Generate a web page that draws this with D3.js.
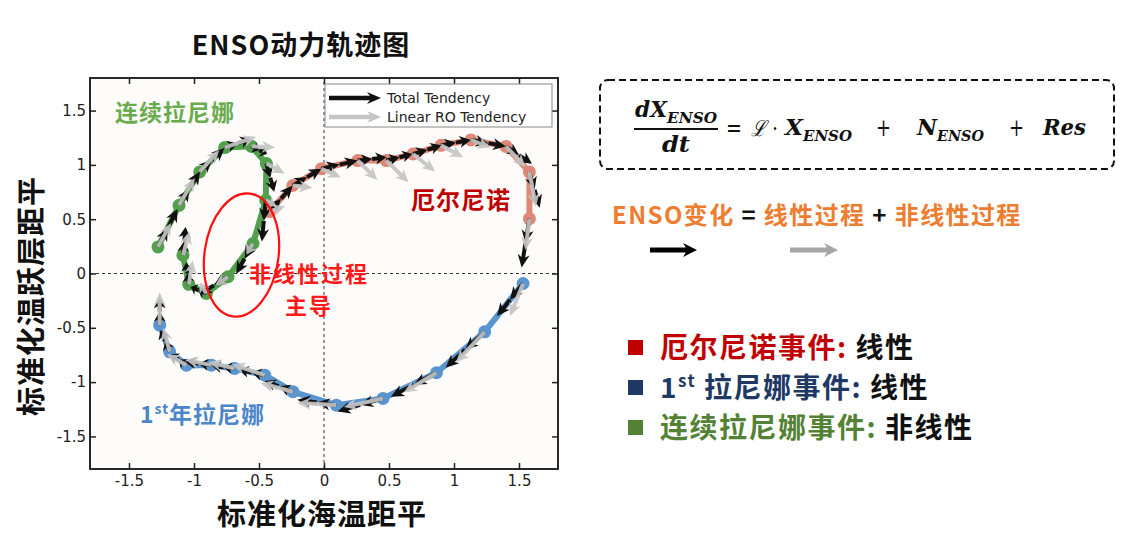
<!DOCTYPE html>
<html>
<head>
<meta charset="utf-8">
<script src="https://cdn.jsdelivr.net/npm/d3@7"></script>
<style>
body { margin: 0; background: #fff; }
svg { display: block; }
</style>
</head>
<body>
<script>
// ---- data ----
var ticks = [-1.5, -1, -0.5, 0, 0.5, 1, 1.5];
var tickLabels = ["-1.5", "-1", "-0.5", "0", "0.5", "1", "1.5"];

// El Nino (red)
var ninoX  = [-0.42, -0.24, -0.02, 0.26, 0.48, 0.685, 0.90, 1.13, 1.40, 1.58, 1.58];
var ninoY  = [0.57, 0.81, 0.965, 1.04, 1.04, 1.10, 1.18, 1.23, 1.17, 0.935, 0.505];
var ninoU  = [0.18, 0.22, 0.28, 0.22, 0.20, 0.22, 0.23, 0.27, 0.20, 0.08, -0.06];
var ninoV  = [0.24, 0.155, 0.075, 0.03, 0.06, 0.08, 0.05, -0.06, -0.16, -0.33, -0.45];
var ninoLU = [0.12, 0.15, 0.15, 0.15, 0.17, 0.17, 0.17, 0.15, 0.15, 0.05, -0.03];
var ninoLV = [0.05, -0.02, -0.08, -0.18, -0.20, -0.16, -0.11, -0.07, -0.19, -0.32, -0.29];

// 1st-year La Nina (blue)
var nina1X  = [1.531, 1.236, 0.865, 0.454, 0.095, -0.238, -0.456, -0.687, -0.866, -1.058, -1.187, -1.264];
var nina1Y  = [-0.092, -0.537, -0.914, -1.150, -1.212, -1.089, -0.936, -0.874, -0.844, -0.844, -0.721, -0.476];
var nina1U  = [-0.20, -0.30, -0.35, -0.35, -0.30, -0.22, -0.20, -0.17, -0.20, -0.12, -0.07, 0.00];
var nina1V  = [-0.30, -0.33, -0.22, -0.12, 0.05, 0.10, 0.05, 0.02, 0.03, 0.10, 0.20, 0.25];
var nina1LU = [-0.10, -0.22, -0.25, -0.30, -0.30, -0.25, -0.25, -0.20, -0.20, -0.15, -0.05, 0.00];
var nina1LV = [-0.30, -0.28, -0.18, -0.08, 0.02, 0.08, 0.10, 0.06, 0.05, 0.10, 0.22, 0.30];

// multi-year La Nina (green)
var ninaMX  = [-1.277, -1.115, -0.956, -0.764, -0.558, -0.443, -0.448, -0.546, -0.738, -0.905, -1.04, -1.085];
var ninaMY  = [0.245, 0.628, 0.935, 1.159, 1.171, 1.012, 0.674, 0.276, -0.03, -0.184, -0.10, 0.168];
var ninaMU  = [0.15, 0.16, 0.19, 0.20, 0.12, 0.06, -0.03, -0.13, -0.22, -0.12, -0.02, 0.02];
var ninaMV  = [0.35, 0.31, 0.22, 0.08, -0.07, -0.26, -0.38, -0.28, -0.16, 0.06, 0.20, 0.26];
var ninaMLU = [0.10, 0.12, 0.15, 0.24, 0.18, 0.14, 0.08, -0.05, -0.10, -0.05, 0.03, 0.05];
var ninaMLV = [0.22, 0.25, 0.20, 0.10, -0.01, -0.09, -0.05, -0.10, -0.08, 0.10, 0.22, 0.22];

var width = 1146, height = 549;
var cjk = "'Noto Sans CJK SC', 'Noto Sans', sans-serif";

var svg = d3.select("body").append("svg").attr("width", width).attr("height", height);

var x = d3.scaleLinear().domain([-1.8, 1.8]).range([90, 558]);
var y = d3.scaleLinear().domain([-1.8, 1.8]).range([469, 78]);

// plot background
svg.append("rect").attr("x", 90).attr("y", 78).attr("width", 468).attr("height", 391).attr("fill", "#fdfcfa");

// zero lines
svg.append("line").attr("x1", x(-1.8)).attr("x2", x(1.8)).attr("y1", y(0)).attr("y2", y(0))
  .attr("stroke", "#333").attr("stroke-width", 1).attr("stroke-dasharray", "3,3");
svg.append("line").attr("x1", x(0)).attr("x2", x(0)).attr("y1", y(-1.8)).attr("y2", y(1.8))
  .attr("stroke", "#333").attr("stroke-width", 1).attr("stroke-dasharray", "3,3");

// axes, ticks inward on all four sides
var fmt = function(d) { return tickLabels[ticks.indexOf(d)]; };
var axes = [
  {ax: d3.axisBottom(x).tickFormat(fmt).tickPadding(6), t: "translate(0," + y(-1.8) + ")"},
  {ax: d3.axisTop(x).tickFormat(""), t: "translate(0," + y(1.8) + ")"},
  {ax: d3.axisLeft(y).tickFormat(fmt).tickPadding(4), t: "translate(" + x(-1.8) + ",0)"},
  {ax: d3.axisRight(y).tickFormat(""), t: "translate(" + x(1.8) + ",0)"}
];
axes.forEach(function(a) {
  var g = svg.append("g").attr("transform", a.t)
    .call(a.ax.tickValues(ticks).tickSizeInner(-6).tickSizeOuter(0));
  g.select(".domain").remove();
  g.selectAll("line").attr("stroke", "#222").attr("stroke-width", 1.5);
  g.selectAll("text").attr("fill", "#222").style("font-family", "'DejaVu Sans', sans-serif").style("font-size", "15px");
});

// frame
svg.append("rect").attr("x", x(-1.8)).attr("y", y(1.8)).attr("width", x(1.8) - x(-1.8)).attr("height", y(-1.8) - y(1.8))
  .attr("fill", "none").attr("stroke", "#111").attr("stroke-width", 1.8);

// ---- trajectories ----
var series = [
  {x: ninoX, y: ninoY, u: ninoU, v: ninoV, lu: ninoLU, lv: ninoLV, color: "#df8878"},
  {x: nina1X, y: nina1Y, u: nina1U, v: nina1V, lu: nina1LU, lv: nina1LV, color: "#5b95cf"},
  {x: ninaMX, y: ninaMY, u: ninaMU, v: ninaMV, lu: ninaMLU, lv: ninaMLV, color: "#52a04c"}
];

var trail = svg.append("g");
series.forEach(function(s) {
  var pts = s.x.map(function(v, i) { return [x(v), y(s.y[i])]; });
  trail.append("path").attr("d", d3.line()(pts)).attr("fill", "none")
    .attr("stroke", s.color).attr("stroke-width", 6).attr("stroke-linejoin", "round").attr("stroke-linecap", "round");
  trail.selectAll(null).data(pts).enter().append("circle")
    .attr("cx", function(p) { return p[0]; }).attr("cy", function(p) { return p[1]; })
    .attr("r", 6.5).attr("fill", s.color);
});

// quiver-like arrow polygon
function arrowPath(x0, y0, x1, y1, w, hw, hl) {
  var dx = x1 - x0, dy = y1 - y0, L = Math.hypot(dx, dy);
  if (L < 0.5) return "";
  var ux = dx / L, uy = dy / L, nx = -uy, ny = ux;
  var h = Math.min(hl, L * 0.75);
  var bx = x1 - ux * h, by = y1 - uy * h;
  var sx = x1 - ux * h * 0.8, sy = y1 - uy * h * 0.8;
  var p = [
    [x0 + nx * w / 2, y0 + ny * w / 2],
    [sx + nx * w / 2, sy + ny * w / 2],
    [bx + nx * hw / 2, by + ny * hw / 2],
    [x1, y1],
    [bx - nx * hw / 2, by - ny * hw / 2],
    [sx - nx * w / 2, sy - ny * w / 2],
    [x0 - nx * w / 2, y0 - ny * w / 2]
  ];
  return "M" + p.map(function(q) { return q[0].toFixed(1) + "," + q[1].toFixed(1); }).join("L") + "Z";
}

var quiv = svg.append("g");
// total tendency: black, drawn as two chained half arrows
series.forEach(function(s) {
  s.x.forEach(function(xv, i) {
    var yv = s.y[i], hu = s.u[i] / 2, hv = s.v[i] / 2;
    [0, 1].forEach(function(k) {
      quiv.append("path")
        .attr("d", arrowPath(x(xv + hu * k), y(yv + hv * k), x(xv + hu * (k + 1)), y(yv + hv * (k + 1)), 4, 12, 13))
        .attr("fill", "#111");
    });
  });
});
// linear RO tendency: gray
series.forEach(function(s) {
  s.x.forEach(function(xv, i) {
    var yv = s.y[i];
    quiv.append("path")
      .attr("d", arrowPath(x(xv), y(yv), x(xv + s.lu[i]), y(yv + s.lv[i]), 4, 12, 13))
      .attr("fill", "#c4c4c4").attr("fill-opacity", 0.92);
  });
});

// nonlinear highlight ellipse
svg.append("ellipse").attr("cx", 241.5).attr("cy", 255).attr("rx", 37).attr("ry", 62)
  .attr("transform", "rotate(8,241.5,255)")
  .attr("fill", "none").attr("stroke", "#ff1010").attr("stroke-width", 2.2);

// in-plot labels
function label(txt, px, py, size, color, anchor) {
  return svg.append("text").attr("x", px).attr("y", py).attr("text-anchor", anchor || "start")
    .style("font-family", cjk).style("font-weight", 700).style("font-size", size + "px")
    .style("letter-spacing", "1px").attr("fill", color).text(txt);
}
label("连续拉尼娜", 115, 121, 23, "#6aab4e");
label("厄尔尼诺", 411, 209, 24, "#c00000");
label("非线性过程", 309, 282, 22, "#ff1a1a", "middle").style("letter-spacing", "2px");
label("主导", 309, 314, 22, "#ff1a1a", "middle").style("letter-spacing", "2px");
var l1 = label("", 140, 423, 23, "#4a86c8");
l1.append("tspan").text("1");
l1.append("tspan").attr("dy", -9).style("font-size", "14px").text("st");
l1.append("tspan").attr("dy", 9).text("年拉尼娜");

// legend
var leg = svg.append("g");
leg.append("rect").attr("x", 325).attr("y", 84).attr("width", 227).attr("height", 43)
  .attr("fill", "#fff").attr("stroke", "#888").attr("stroke-width", 1);
var legItems = [
  {name: "Total Tendency", color: "#111", cy: 98},
  {name: "Linear RO Tendency", color: "#c4c4c4", cy: 117}
];
legItems.forEach(function(d) {
  leg.append("path").attr("d", arrowPath(329, d.cy, 381, d.cy, 4.5, 12, 14)).attr("fill", d.color);
  leg.append("text").attr("x", 387).attr("y", d.cy + 5).attr("fill", "#222")
    .style("font-family", "'DejaVu Sans', sans-serif").style("font-size", "14px").text(d.name);
});

// titles
svg.append("text").attr("x", 301).attr("y", 55).attr("text-anchor", "middle")
  .style("font-family", cjk).style("font-weight", 700).style("font-size", "27px").style("letter-spacing", "1px")
  .attr("fill", "#111").text("ENSO动力轨迹图");
svg.append("text").attr("x", 322).attr("y", 525).attr("text-anchor", "middle")
  .style("font-family", cjk).style("font-weight", 700).style("font-size", "29px").style("letter-spacing", "1px")
  .attr("fill", "#111").text("标准化海温距平");
svg.append("text").attr("transform", "translate(42,296) rotate(-90)").attr("text-anchor", "middle")
  .style("font-family", cjk).style("font-weight", 700).style("font-size", "29px").style("letter-spacing", "1px")
  .attr("fill", "#111").text("标准化温跃层距平");

// ---- right panel ----
svg.append("rect").attr("x", 600).attr("y", 80).attr("width", 514).attr("height", 89).attr("rx", 8)
  .attr("fill", "none").attr("stroke", "#111").attr("stroke-width", 2).attr("stroke-dasharray", "7,4");

var serif = "'DejaVu Serif', 'Liberation Serif', serif";
function mathText(txt, px, py, size, len, bold, italic) {
  var t = svg.append("text").attr("x", px).attr("y", py).attr("fill", "#111")
    .style("font-family", serif).style("font-size", size + "px")
    .style("font-weight", bold ? 700 : 400).style("font-style", italic ? "italic" : "normal").text(txt);
  if (len) t.attr("textLength", len).attr("lengthAdjust", "spacingAndGlyphs");
  return t;
}
mathText("dX", 635, 117, 22, 32, true, true);
mathText("ENSO", 667, 123, 15, 50, true, true);
svg.append("line").attr("x1", 634).attr("x2", 718).attr("y1", 129).attr("y2", 129).attr("stroke", "#111").attr("stroke-width", 1.8);
mathText("dt", 662, 152, 22, 28, true, true);
mathText("=", 726, 136, 24, 16, false, false);
mathText("ℒ", 751, 136, 22, 15, false, true);
mathText("·", 772, 136, 22, 6, false, false);
mathText("X", 785, 135, 22, 18, true, true);
mathText("ENSO", 803, 141, 15, 49, true, true);
mathText("+", 876, 136, 24, 15, false, false);
mathText("N", 917, 135, 22, 20, true, true);
mathText("ENSO", 937, 141, 15, 47, true, true);
mathText("+", 1009, 136, 24, 15, false, false);
mathText("Res", 1043, 135, 22, 43, true, true);

var eq = svg.append("text").attr("x", 612).attr("y", 224)
  .style("font-family", cjk).style("font-weight", 700).style("font-size", "24px").style("letter-spacing", "1.4px");
[["ENSO变化", "#ed7d31"], [" = ", "#111"], ["线性过程", "#ed7d31"], [" + ", "#111"], ["非线性过程", "#ed7d31"]]
  .forEach(function(p) { eq.append("tspan").attr("fill", p[1]).text(p[0]); });

svg.append("path").attr("d", arrowPath(650, 250, 697, 250, 5, 14, 14)).attr("fill", "#000");
svg.append("path").attr("d", arrowPath(790, 250, 838, 250, 5, 14, 14)).attr("fill", "#a6a6a6");

// event bullets
var bullets = [
  {sq: "#c00000", parts: [["厄尔尼诺事件: ", "#c00000"], ["线性", "#111"]], cy: 347},
  {sq: "#203864", parts: [["1", "#203864"], ["st", "#203864", true], [" 拉尼娜事件: ", "#203864"], ["线性", "#111"]], cy: 387},
  {sq: "#548235", parts: [["连续拉尼娜事件: ", "#548235"], ["非线性", "#111"]], cy: 427}
];
bullets.forEach(function(b) {
  svg.append("rect").attr("x", 628).attr("y", b.cy - 7).attr("width", 15).attr("height", 15).attr("fill", b.sq);
  var t = svg.append("text").attr("x", 660).attr("y", b.cy + 11)
    .style("font-family", cjk).style("font-weight", 700).style("font-size", "28px").style("letter-spacing", "1.5px");
  b.parts.forEach(function(p, i) {
    var ts = t.append("tspan").attr("fill", p[1]).text(p[0]);
    if (p[2]) ts.attr("dy", -11).style("font-size", "17px");
    else if (i > 0 && b.parts[i - 1][2]) ts.attr("dy", 11);
  });
});
</script>
</body>
</html>
